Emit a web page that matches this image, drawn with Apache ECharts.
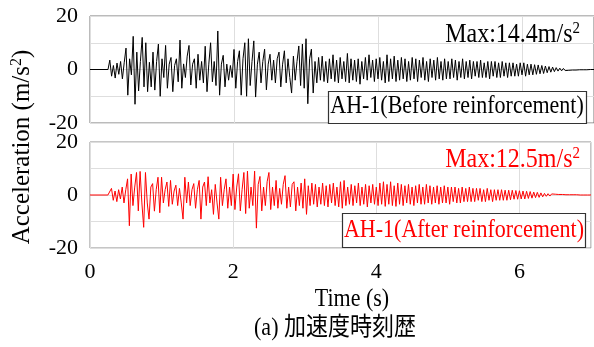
<!DOCTYPE html>
<html>
<head>
<meta charset="utf-8">
<script src="https://cdn.jsdelivr.net/npm/echarts@6/dist/echarts.min.js"></script>
<style>
  html, body { margin: 0; padding: 0; background: #fff; }
  #chart { width: 594px; height: 347px; }
</style>
</head>
<body>
<div id="chart"></div>
<script>
// time base of the record (s), samples start after the quiet lead-in
var timeStart = 0.25;
var timeStep = 0.025;
var xTicks = [0, 2, 4, 6];
var yTicks = [-20, 0, 20];

// AH-1 before reinforcement (m/s^2)
var beforeAccel = [
    0, 3.5, -2.5, 1.5, -3.2, 2.4, -1.8, 3, -3.5, 2.5, 8, -9.6, 4, -2, 12.4, -13, 6.5, -8, 3, 12,
    -6.5, 10, -8.3, 2.7, -6.5, 6.5, -7.7, 3, 9.5, -10, 4, -3, 9, -7, 2, 4.5, -8.3, 1.5, 4, -4.6,
    11, -7, 2.1, -3, 5, 9, -5.8, 2, 4, -7, 5.7, -4, 3, -5, 8.7, -8.3, 2, 10, -4.6, 3,
    -6, 14.4, -9.6, 2, 5.3, -6.5, 2, -4, 1.5, -3, 7.5, -7, 3, 7, -9.6, 4, 10, -10, 11.5, -6,
    3, 10.7, -10.3, 2, 6.5, -5, 3, 7.6, -7.6, 2, 5.7, -4, 3.5, -5, 4, 6.5, -6.5, 2, 7, -5,
    4, -3, -8.8, 5, -4, 3, 8.8, -6, 9.5, -7, 11.5, -12.8, 4, 7.6, -8.8, 3, -5, 4.5, -4, 5,
    -4.5, 3, -5, 4, -3.5, 5.5, -4.5, 3.5, -5, 4.5, -3.5, 3, -4.5, 6, -5, 4, -4, 3.5, -4.5, 4,
    -5.5, 3, -3.5, 4.5, -4, 5.5, -3, 3.5, -4.5, 4, -3.5, 4.5, -4, 3, -5, 5.5, -4.5, 4, -3.5, 5,
    -4.5, 3.5, -4, 4.5, -3.5, 4, -4.5, 3, -4, 4.5, -3.5, 4, -4.5, 3.5, -3, 4.5, -4, 3, -4.5, 4,
    -3, 3.5, -4, 4.5, -3.5, 3, -4, 4, -3.5, 3, -3.5, 4, -3, 3.5, -4, 3, -3, 4, -3.5, 3,
    -3, 3.5, -3.5, 3, -2.5, 3, -3, 3.5, -3, 2.5, -3, 3, -3.5, 3, -2.5, 3, -3, 2.5, -3, 3,
    -2.5, 2.5, -3, 2.5, -2.5, 2.5, -2.5, 2, -2.5, 2.5, -2, 2.5, -2.5, 2, -2, 2, -2, 1.8, -1.8, 1.7,
    -1.6, 1.5, -1.5, 1.3, -1.2, 1.1, -1, 0.9, -0.8, 0.7, -0.6, 0.5, -0.5, 0.4, -0.4, 0.3, -0.3, 0.3, -0.2, 0.2,
    -0.2, 0.2, -0.1, 0.1, -0.1, 0.1, -0.1, 0.1, 0, 0, 0
];

// AH-1 after reinforcement (m/s^2)
var afterAccel = [
    0, 0, 2.5, -2, 1.5, -2.5, 2, -1.5, 3, -3, 2, 6.1, -11.6, 7.9, -4, 3, 8.5, -6, 8.9, -3,
    -12.2, 8.5, -3, -9.1, 3, 4.3, -6.1, 2, 6.7, -6.7, 6.7, -3, 2, 4.9, -4.3, 5.5, -3.5, 1.5, 3.7, -4,
    2.5, -3, -9.1, 6.7, -3, 4.9, -4, 2, 4.3, -5, 2, 5.5, -9.1, 3, 4.9, -4, 6.9, -3, 2, -7.3,
    4, -3, -9.1, 6.7, -4, 2, 6.1, -5, 3, -4, 7.9, -5.5, 3, 8, -6, 2, 8.5, -7, 9, -5,
    3, -4, 9, -12.5, 4, 7, -6, 3, -4, 5, 8.5, -5.5, 3, -4, 5.5, -5, 2.5, -3.5, 4, 7.3,
    -5, 3, -4.5, 4, 5, -6, 3, -4, 4.5, -5, 6.1, -7.3, 3.5, -4, 4.5, -3.5, 4, -4.5, 3, -3.5,
    4.5, -4, 3.5, -4.5, 4, -3, 4.5, -4, 3, -4.5, 5, -5, 5.5, -4, 3, -3.5, 4, -4, 3.5, -3,
    4.5, -4, 3, -3.5, 4, -4.5, 3.5, -3, 4, -3.5, 3, -4, 4.5, -3.5, 5, -4.3, 4, -3.5, 5, -4,
    3.5, -4.3, 4.5, -3.5, 4, -4, 3.5, -3, 4, -3.5, 3, -4, 3.5, -3, 4, -3.5, 3, -3.5, 4, -3,
    3.5, -3.5, 3, -3, 3.5, -3.5, 3, -3, 3.5, -3, 3, -3.5, 3, -2.5, 3, -3, 2.5, -3, 3, -2.5,
    2.5, -2.5, 3, -2.5, 2.5, -2.5, 2.5, -2, 2.5, -2.5, 2, -2.5, 2.5, -2, 2, -2.5, 2, -2, 2, -2,
    2, -2, 1.8, -2, 1.8, -1.8, 1.8, -1.6, 1.7, -1.6, 1.6, -1.5, 1.5, -1.5, 1.4, -1.3, 1.3, -1.2, 1.1, -1,
    1, -0.9, 0.8, -0.7, 0.6, -0.5, 0.5, -0.4, 0.4, -0.3, 0.3, -0.3, 0.2, -0.2, 0.2, -0.2, 0.1, -0.1, 0.1, -0.1,
    0.1, -0.1, 0.1, -0.1, 0, 0, 0, 0, 0, 0, 0
];

var serif = "'Liberation Serif', 'Times New Roman', 'Noto Sans CJK JP', serif";

function toSeries(values) {
    var pts = [[0, 0]];
    values.forEach(function(v, i) {
        pts.push([+(timeStart + i * timeStep).toFixed(3), v]);
    });
    return pts;
}

function xAxisOpt(gridIndex, showLabels) {
    return {
        type: 'value', gridIndex: gridIndex, min: 0, max: 7, interval: 2,
        axisLine: {show: false}, axisTick: {show: false},
        axisLabel: {
            show: showLabels, color: '#000', fontFamily: serif, fontSize: 22, margin: 13,
            formatter: function(v) { return xTicks.indexOf(v) >= 0 ? v : ''; }
        },
        splitLine: {show: true, lineStyle: {color: '#dedede', width: 1}}
    };
}

function yAxisOpt(gridIndex) {
    return {
        type: 'value', gridIndex: gridIndex, min: -20, max: 20, interval: 10,
        axisLine: {show: false}, axisTick: {show: false},
        axisLabel: {
            color: '#000', fontFamily: serif, fontSize: 22, margin: 12,
            formatter: function(v) { return yTicks.indexOf(v) >= 0 ? v : ''; }
        },
        splitLine: {show: true, lineStyle: {color: '#dedede', width: 1}}
    };
}

function labelText(x, y, text, color, align, size) {
    size = size || 22;
    return {
        type: 'text', x: x, y: y, scaleY: 1.12, z: 20,
        style: {
            text: text, align: align, verticalAlign: 'middle',
            rich: {
                a: {fontFamily: serif, fontSize: size, fill: color, lineHeight: size + 2},
                s: {fontFamily: serif, fontSize: Math.round(size * 0.64), fill: color, verticalAlign: 'top', lineHeight: size + 2}
            }
        }
    };
}

var chart = echarts.init(document.getElementById('chart'), null, {renderer: 'canvas'});
chart.setOption({
    animation: false,
    grid: [
        {left: 90, top: 16, right: -1, height: 107, show: true, borderColor: '#777', borderWidth: 1},
        {left: 90, top: 142, right: -1, height: 106, show: true, borderColor: '#8c8c8c', borderWidth: 1}
    ],
    xAxis: [xAxisOpt(0, false), xAxisOpt(1, true)],
    yAxis: [yAxisOpt(0), yAxisOpt(1)],
    series: [
        {
            type: 'line', xAxisIndex: 0, yAxisIndex: 0, data: toSeries(beforeAccel),
            showSymbol: false, lineStyle: {color: '#000', width: 1}
        },
        {
            type: 'line', xAxisIndex: 1, yAxisIndex: 1, data: toSeries(afterAccel),
            showSymbol: false, lineStyle: {color: '#ff0000', width: 1}
        }
    ],
    graphic: [
        labelText(580, 35, '{a|Max:14.4m/s}{s|2}', '#000', 'right', 24),
        {
            type: 'rect', z: 19, shape: {x: 328.5, y: 91.5, width: 258, height: 32},
            style: {fill: '#fff', stroke: '#333', lineWidth: 1.2}
        },
        labelText(457, 107, '{a|AH-1(Before reinforcement)}', '#000', 'center'),
        labelText(580, 160, '{a|Max:12.5m/s}{s|2}', '#ff0000', 'right', 24),
        {
            type: 'rect', z: 19, shape: {x: 342.5, y: 213.5, width: 243, height: 34},
            style: {fill: '#fff', stroke: '#333', lineWidth: 1.2}
        },
        labelText(464, 231, '{a|AH-1(After reinforcement)}', '#ff0000', 'center'),
        {
            type: 'text', x: 22, y: 147, rotation: Math.PI / 2, z: 20,
            style: {
                text: '{a|Acceleration (m/s}{s|2}{a|)}', align: 'center', verticalAlign: 'middle',
                rich: {
                    a: {fontFamily: serif, fontSize: 25, fill: '#000', lineHeight: 26},
                    s: {fontFamily: serif, fontSize: 16, fill: '#000', verticalAlign: 'top', lineHeight: 26}
                }
            }
        },
        labelText(352, 300, '{a|Time (s)}', '#000', 'center'),
        labelText(335, 329, '{a|(a) 加速度時刻歴}', '#000', 'center')
    ]
});
</script>
</body>
</html>
